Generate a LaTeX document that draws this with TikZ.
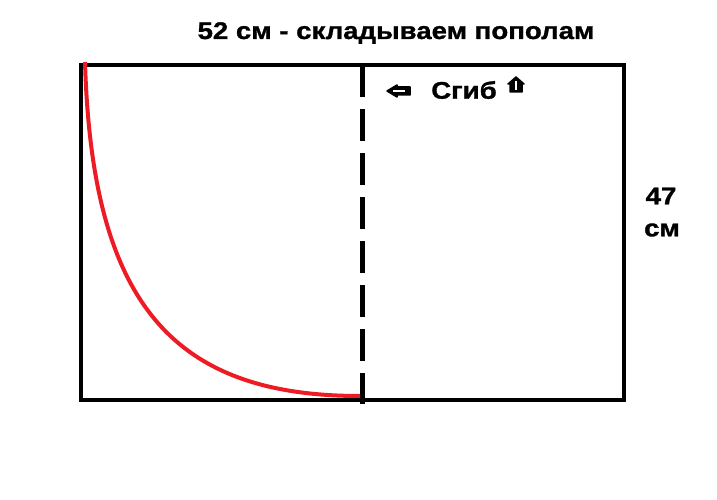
\documentclass[tikz,border=0pt]{standalone}
\usepackage{fontspec}
\setmainfont{Liberation Sans}
\newfontfamily\heavyfont{Liberation Sans}[FakeStretch=1.15,FakeBold=1.2]

\begin{document}
\begin{tikzpicture}[x=1pt,y=-1pt]
  \tikzstyle{label}=[font=\heavyfont\bfseries\fontsize{24}{26}\selectfont,inner sep=0pt]
  \tikzstyle{frame}=[line width=4pt,black]
  \tikzstyle{fold}=[line width=5pt,black,dash pattern=on 32pt off 12pt]
  \tikzstyle{cut}=[line width=4pt,color={rgb,255:red,237;green,28;blue,36}]
  \tikzstyle{marker}=[fill=black,draw=black,line width=1.5pt,line join=round]

\useasboundingbox (0,0) rectangle (717,500);

\begin{scope}
% sheet
\coordinate (nw) at (81,65);
\coordinate (se) at (624,400);
\draw [frame] (nw) rectangle (se);

% fold line
\coordinate (ftop) at (362,65);
\coordinate (fbot) at (362,404);
\draw [fold] (ftop) -- (fbot);

% pattern curve
\coordinate (ca) at (85,62);
\coordinate (cb) at (360,396);
\draw [cut] (ca) .. controls (92,300) and (170,396) .. (cb);

% labels
\node [label] (title) at (396,33) {52 см - складываем пополам};
\node [label] (fold) at (464,90) {Сгиб};
\node [label] (width) at (661,196) {47};
\node [label] (unit) at (662,230) {см};

% arrows
\draw [marker] (387,91) -- (397,85) -- (397,87) -- (410,87) -- (410,95)
  -- (397,95) -- (397,97) -- cycle;
\draw [white,line width=1.2pt] (393,91) -- (405,91);
\draw [marker] (516,77) -- (524,84) -- (522,84) -- (522,92) -- (510,92)
  -- (510,84) -- (508,84) -- cycle;
\draw [white,line width=1.2pt] (516,81) -- (516,90);
\end{scope}
\end{tikzpicture}
\end{document}
